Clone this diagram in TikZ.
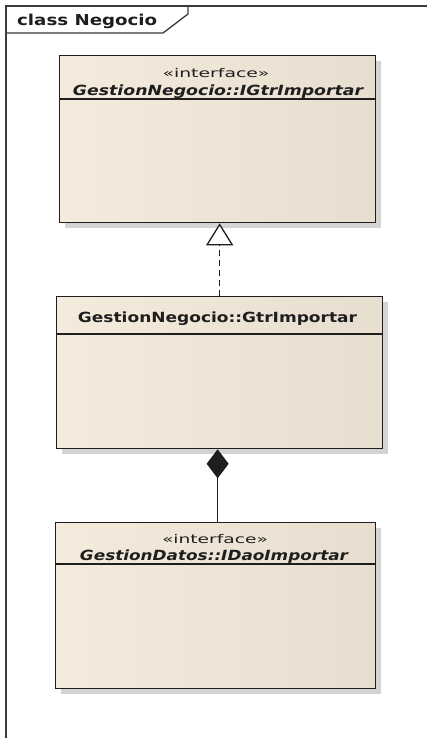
\documentclass[tikz,border=0pt]{standalone}
\usepackage{fontspec}
\setmainfont{DejaVu Sans}
\usepackage{graphicx}
\usetikzlibrary{arrows.meta,shadows}

\definecolor{frameline}{HTML}{3A3A3A}
\definecolor{fillL}{HTML}{F4EBDC}
\definecolor{fillM}{HTML}{F8F0E2}
\definecolor{fillR}{HTML}{E7DECF}
\definecolor{inkdark}{HTML}{1E1E1E}

% stretch a text horizontally to a given width, keeping its height
\newcommand{\wfit}[2]{\resizebox{#1}{\height}{#2}}

\tikzset{
  umlbox/.style={draw=inkdark, line width=1.3pt, inner sep=0pt, anchor=north west,
    left color=fillL, middle color=fillM, right color=fillR,
    drop shadow={shadow xshift=5pt, shadow yshift=-5pt, fill=black!30, opacity=0.55}},
  stereo/.style={anchor=base, inner sep=0pt, font=\fontsize{12}{14}\selectfont, text=inkdark},
  ifname/.style={anchor=base, inner sep=0pt, font=\fontsize{14}{16}\selectfont\bfseries\itshape, text=inkdark},
  clname/.style={anchor=base, inner sep=0pt, font=\fontsize{14}{16}\selectfont\bfseries, text=inkdark},
  conn/.style={draw=inkdark, line width=1.3pt},
}

\begin{document}
\begin{tikzpicture}[x=1pt,y=-1pt]
\useasboundingbox[fill=white] (0,0) rectangle (427,738);

% package frame with its name tab
\draw[frameline, line width=1.5pt] (427,6) -- (6,6) -- (6,738);
\draw[frameline, line width=1.3pt] (6,33) -- (163,33) -- (188,14) -- (188,6);
\node[anchor=base west, inner sep=0pt, font=\fontsize{15}{17}\selectfont\bfseries, text=inkdark]
  (framelabel) at (17,26) {\wfit{140pt}{class Negocio}};

% interface GestionNegocio::IGtrImportar
\node[umlbox, minimum width=316pt, minimum height=167pt] (igtr) at (59,55) {};
\draw[conn] (igtr.north west) ++(0,44) -- ++(316,0);
\node[stereo] (igtrst) at (216,78) {\wfit{107pt}{«interface»}};
\node[ifname] (igtrnm) at (218,96) {\wfit{290pt}{GestionNegocio::IGtrImportar}};

% class GestionNegocio::GtrImportar
\node[umlbox, minimum width=326pt, minimum height=152pt] (gtr) at (56,296) {};
\draw[conn] (gtr.north west) ++(0,38) -- ++(326,0);
\node[clname] (gtrnm) at (217.5,322) {\wfit{279pt}{GestionNegocio::GtrImportar}};

% interface GestionDatos::IDaoImportar
\node[umlbox, minimum width=320pt, minimum height=166pt] (dao) at (55,522) {};
\draw[conn] (dao.north west) ++(0,42) -- ++(320,0);
\node[stereo] (daost) at (215,543) {\wfit{106pt}{«interface»}};
\node[ifname] (daonm) at (214,560) {\wfit{268pt}{GestionDatos::IDaoImportar}};

% realization
\draw[conn, dash pattern=on 6pt off 4pt,
  -{Triangle[open, fill=white, length=22pt, width=27pt]}]
  (gtr.north) -- (gtr.north |- igtr.south);

% composition
\draw[conn, {Diamond[length=29pt, width=22pt]}-]
  ([xshift=-2pt]gtr.south) -- ([xshift=-2pt]gtr.south |- dao.north);
\end{tikzpicture}
\end{document}
